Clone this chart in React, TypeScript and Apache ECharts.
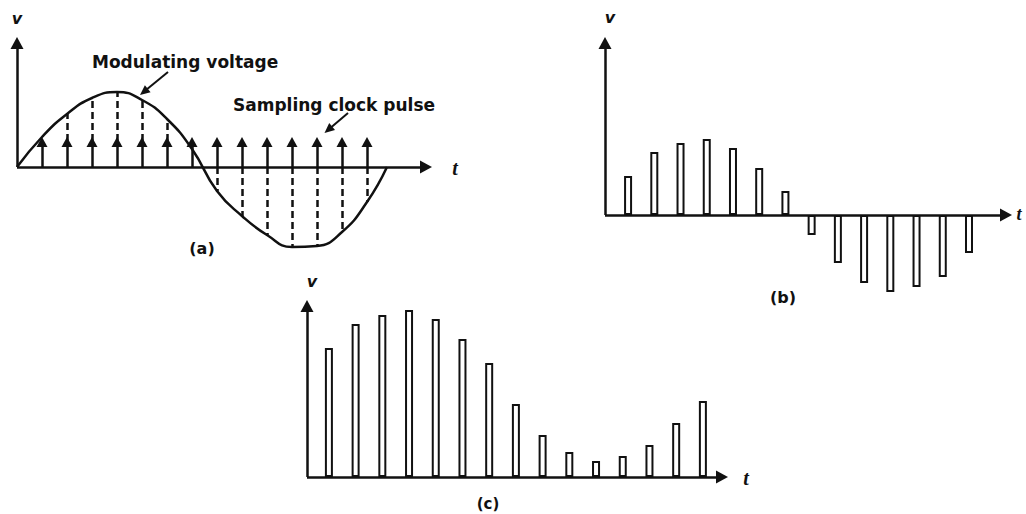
import React, { useEffect, useRef } from "react";
import * as echarts from "echarts";

// ---------- (a) modulating voltage and sampling clock ----------
const curveT = [0, 1, 2, 3, 4, 5, 6, 7, 8, 9, 10, 11, 12, 13, 14, 14.8];
const curveV = [0, 30, 53, 69, 75, 67, 48, 18, -24, -49, -68, -80, -79, -65, -35, 0];
const sampleT = [1, 2, 3, 4, 5, 6, 7, 8, 9, 10, 11, 12, 13, 14];
const pulseH = [30, 30, 30, 30, 30, 30, 30, 30, 30, 30, 30, 30, 30, 30];

// ---------- (b) sampled (PAM) output ----------
const bT = [1, 2, 3, 4, 5, 6, 7, 8, 9, 10, 11, 12, 13, 14];
const bV = [39, 63, 72, 76, 67, 47, 24, -20, -48, -68, -77, -72, -62, -38];

// ---------- (c) ----------
const cT = [1, 2, 3, 4, 5, 6, 7, 8, 9, 10, 11, 12, 13, 14, 15];
const cV = [129, 153, 162, 167, 158, 138, 114, 73, 42, 25, 16, 21, 32, 54, 76];

// annotation arrows (in panel (a) coordinates): [fromT, fromV, toT, toV]
const modArrow = [6.04, 95, 4.92, 72];
const clkArrow = [13.24, 54, 12.3, 34];

const INK = "#111";
const FONT = "DejaVu Sans";

// panel ranges; pxX / pxY = pixels per data unit (used to stop arrow lines half a head short)
const A = { xMin: 0, xMax: 16.6, yMin: -90, yMax: 130, pxX: 25, pxY: 1 };
const B = { xMin: 0.12, xMax: 15.64, yMin: -90, yMax: 178, pxX: 26.23, pxY: 1 };
const C = { xMin: 0.18, xMax: 15.94, yMin: 0, yMax: 177, pxX: 26.71, pxY: 1 };
const AXIS_HEAD = [13, 12];
const PULSE_HEAD = [11, 10];

const arrowLine = (data: any[], size: number[], width = 2.5) => ({
  silent: true,
  symbol: ["none", "triangle"],
  symbolSize: size,
  label: { show: false },
  emphasis: { disabled: true },
  lineStyle: { color: INK, width, type: "solid" },
  itemStyle: { color: INK },
  data,
});

const axesFor = (r: typeof A) => {
  const h = AXIS_HEAD[1] / 2;
  return [
    [{ coord: [r.xMin, 0] }, { coord: [r.xMax - h / r.pxX, 0] }],
    [{ coord: [r.xMin, 0] }, { coord: [r.xMin, r.yMax - h / r.pxY] }],
  ];
};

export default function App() {
  const ref = useRef<HTMLDivElement>(null);
  useEffect(() => {
    if (!ref.current) return;
    const chart = echarts.init(ref.current, null, { renderer: "svg" });

    const valueAt = (t: number) => curveV[curveT.indexOf(t)];
    const dashData: any[] = [];
    sampleT.forEach((t, k) => {
      const v = valueAt(t);
      const p = pulseH[k];
      if (v > p + 4) dashData.push([{ coord: [t, p - 4] }, { coord: [t, v] }]);
      else if (v < 0) dashData.push([{ coord: [t, 0] }, { coord: [t, v] }]);
    });

    const annot = [modArrow, clkArrow].map((a) => {
      // stop short of the target by half the head length
      const dx = (a[2] - a[0]) * A.pxX;
      const dy = (a[3] - a[1]) * A.pxY;
      const len = Math.hypot(dx, dy);
      const f = (len - 5) / len;
      return [
        { coord: [a[0], a[1]] },
        { coord: [a[0] + (a[2] - a[0]) * f, a[1] + (a[3] - a[1]) * f] },
      ];
    });

    const txt = (text: string, x: number, y: number, size: number, extra: any = {}) => ({
      type: "text",
      x,
      y,
      silent: true,
      style: {
        text,
        fill: INK,
        font: `bold ${size}px "${FONT}"`,
        textAlign: "center",
        textVerticalAlign: "middle",
        ...extra,
      },
    });

    const hidden = { show: false };
    chart.setOption({
      animation: false,
      backgroundColor: "#ffffff",
      grid: [
        { left: 17, top: 37, width: 415, height: 220 },
        { left: 605, top: 37, width: 407, height: 268 },
        { left: 307, top: 300, width: 421, height: 177 },
      ],
      xAxis: [
        { type: "value", gridIndex: 0, min: A.xMin, max: A.xMax, ...hidden },
        { type: "value", gridIndex: 1, min: B.xMin, max: B.xMax, ...hidden },
        { type: "value", gridIndex: 2, min: C.xMin, max: C.xMax, ...hidden },
      ],
      yAxis: [
        { type: "value", gridIndex: 0, min: A.yMin, max: A.yMax, ...hidden },
        { type: "value", gridIndex: 1, min: B.yMin, max: B.yMax, ...hidden },
        { type: "value", gridIndex: 2, min: C.yMin, max: C.yMax, ...hidden },
      ],
      series: [
        {
          name: "Modulating voltage",
          type: "line",
          xAxisIndex: 0,
          yAxisIndex: 0,
          smooth: 0.5,
          symbol: "none",
          lineStyle: { color: INK, width: 2.5 },
          data: curveT.map((t, i) => [t, curveV[i]]),
          markLine: arrowLine(axesFor(A), AXIS_HEAD),
        },
        {
          name: "Sampling clock pulse",
          type: "line",
          xAxisIndex: 0,
          yAxisIndex: 0,
          symbol: "none",
          data: [],
          markLine: arrowLine(
            sampleT.map((t, k) => [
              { coord: [t, 0] },
              { coord: [t, pulseH[k] - PULSE_HEAD[1] / 2 / A.pxY] },
            ]),
            PULSE_HEAD,
            2.5
          ),
        },
        {
          name: "dashes",
          type: "line",
          xAxisIndex: 0,
          yAxisIndex: 0,
          symbol: "none",
          data: [],
          markLine: {
            silent: true,
            symbol: ["none", "none"],
            label: { show: false },
            emphasis: { disabled: true },
            lineStyle: { color: INK, width: 2.5, type: [7, 4] },
            data: dashData,
          },
        },
        {
          name: "annotations",
          type: "line",
          xAxisIndex: 0,
          yAxisIndex: 0,
          symbol: "none",
          data: [],
          markLine: arrowLine(annot, [9, 10], 2),
        },
        {
          name: "PAM (b)",
          type: "bar",
          xAxisIndex: 1,
          yAxisIndex: 1,
          barWidth: 8,
          itemStyle: { color: "#fff", borderColor: INK, borderWidth: 2 },
          data: bT.map((t, i) => [t, bV[i]]),
          markLine: arrowLine(axesFor(B), AXIS_HEAD),
        },
        {
          name: "PAM (c)",
          type: "bar",
          xAxisIndex: 2,
          yAxisIndex: 2,
          barWidth: 8,
          itemStyle: { color: "#fff", borderColor: INK, borderWidth: 2 },
          data: cT.map((t, i) => [t, cV[i]]),
          markLine: arrowLine(axesFor(C), AXIS_HEAD),
        },
      ],
      graphic: [
        txt("v", 17, 18, 16, { font: `italic bold 16px "${FONT}"` }),
        txt("t", 455, 168, 20, { font: `italic bold 20px "Liberation Serif"` }),
        txt("Modulating voltage", 92, 62, 17, { textAlign: "left" }),
        txt("Sampling clock pulse", 233, 105, 17, { textAlign: "left" }),
        txt("(a)", 202, 248, 16),
        txt("v", 610, 17, 16, { font: `italic bold 16px "${FONT}"` }),
        txt("t", 1019, 214, 18, { font: `italic bold 18px "Liberation Serif"` }),
        txt("(b)", 783, 297, 16),
        txt("v", 312, 281, 16, { font: `italic bold 16px "${FONT}"` }),
        txt("t", 746, 478, 20, { font: `italic bold 20px "Liberation Serif"` }),
        txt("(c)", 488, 504, 15),
      ],
    });
    return () => chart.dispose();
  }, []);
  return (
    <div
      ref={ref}
      style={{ position: "fixed", left: 0, top: 0, width: 1026, height: 514, background: "#fff" }}
    />
  );
}
